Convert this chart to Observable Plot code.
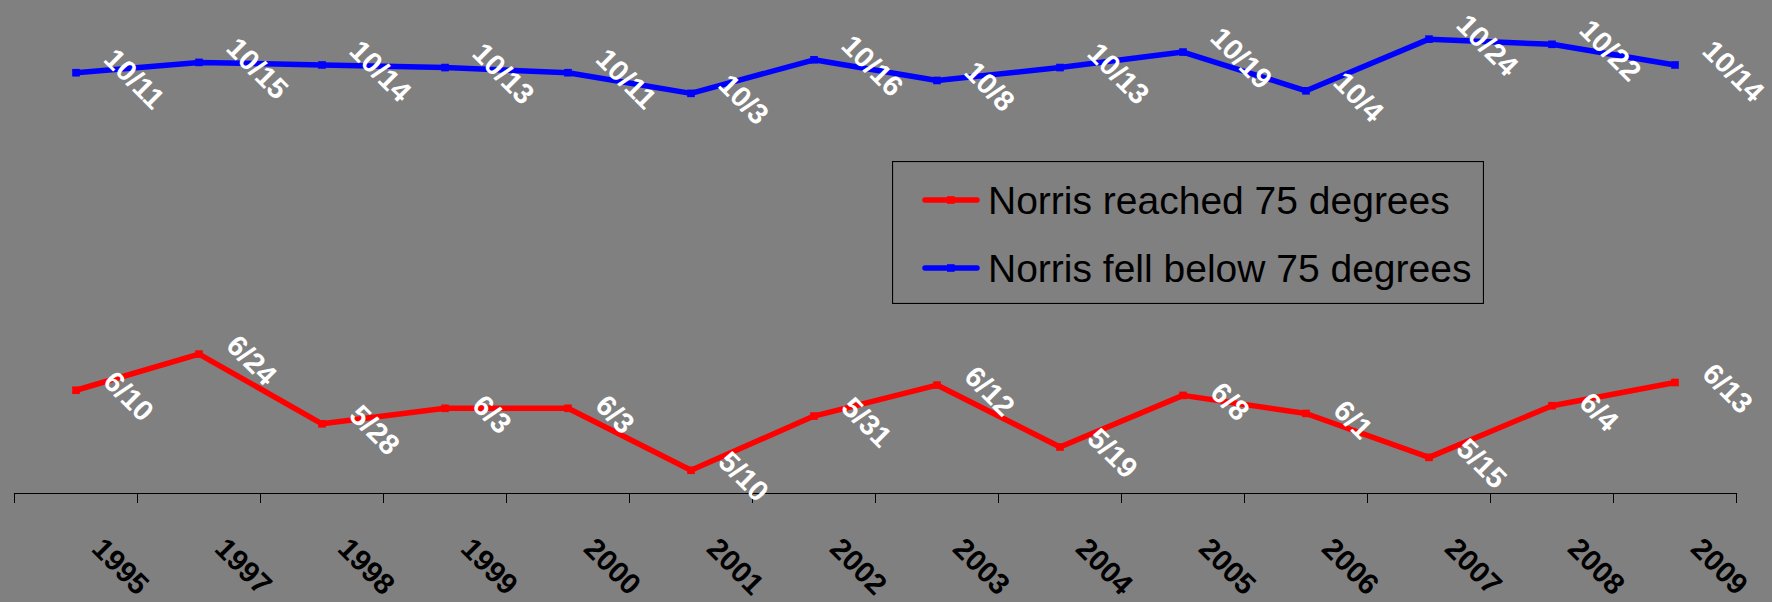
<!DOCTYPE html>
<html>
<head>
<meta charset="utf-8">
<script src="https://cdn.jsdelivr.net/npm/d3@7"></script>
<script src="https://cdn.jsdelivr.net/npm/@observablehq/plot@0.6"></script>
<style>
  html, body { margin: 0; padding: 0; background: #808080; }
  #chart { position: relative; width: 1772px; height: 602px; background: #808080; overflow: hidden;
           font-family: "Liberation Sans", Arial, sans-serif; }
  #chart > svg.mainplot { position: absolute; left: 0; top: 0; }
</style>
</head>
<body>
<div id="chart"></div>
<script>
// ---- data ----
const years = ["1995","1997","1998","1999","2000","2001","2002","2003","2004","2005","2006","2007","2008","2009"];
const reachedDates = ["6/10","6/24","5/28","6/3","6/3","5/10","5/31","6/12","5/19","6/8","6/1","5/15","6/4","6/13"];
const fellDates = ["10/11","10/15","10/14","10/13","10/11","10/3","10/16","10/8","10/13","10/19","10/4","10/24","10/22","10/14"];
const seriesNames = ["Norris reached 75 degrees", "Norris fell below 75 degrees"];
const seriesColors = ["#ff0000", "#0000ff"];
const yDomainDates = ["5/1", "11/1"];
const refYear = 2001;

const FONT = '"Liberation Sans", Arial, sans-serif';
const toDate = s => { const [m, d] = s.split("/").map(Number); return new Date(Date.UTC(refYear, m - 1, d)); };

const rows = [];
[reachedDates, fellDates].forEach((arr, s) => {
  arr.forEach((lab, i) => rows.push({ series: s, pos: i + 0.5, year: years[i], label: lab, date: toDate(lab) }));
});

// measure label widths for Excel-like "right" placement of rotated labels
const LABEL_SIZE = 29;
const ctx = document.createElement("canvas").getContext("2d");
ctx.font = `bold ${LABEL_SIZE}px "Liberation Sans", Arial, sans-serif`;
const capH = 0.716 * LABEL_SIZE;
const lengths = Array.from(new Set(rows.map(d => d.label.length)));

const labelMarks = lengths.map(n => {
  const sample = "0".repeat(n - 1) + "/";
  const w = ctx.measureText(sample).width;
  const half = (w + capH) * Math.SQRT1_2 / 2;
  return Plot.text(rows.filter(d => d.label.length === n), {
    x: "pos", y: "date", text: "label",
    rotate: 45, textAnchor: "middle", lineAnchor: "middle",
    dx: 25 + half, dy: 6.5,
    fill: "#ffffff", fontSize: LABEL_SIZE, fontWeight: "bold"
  });
});

const seriesMarks = [0, 1].flatMap(s => {
  const data = rows.filter(d => d.series === s);
  return [
    Plot.line(data, { x: "pos", y: "date", stroke: seriesColors[s], strokeWidth: 5.5, strokeLinejoin: "round" }),
    Plot.dot(data, { x: "pos", y: "date", symbol: "square", r: 4.3, fill: seriesColors[s], stroke: "none" })
  ];
});

const plot = Plot.plot({
  width: 1772,
  height: 602,
  marginLeft: 14,
  marginRight: 36,
  marginTop: 18,
  marginBottom: 109,
  style: { background: "transparent", fontFamily: FONT, overflow: "visible" },
  x: { type: "linear", domain: [0, years.length], label: null },
  y: { type: "utc", domain: yDomainDates.map(toDate), axis: null },
  marks: [
    Plot.frame({ anchor: "bottom", stroke: "#000000", strokeWidth: 1.2 }),
    Plot.axisX({ ticks: d3.range(years.length + 1), tickSize: 10, tickFormat: () => "", stroke: "#000000", label: null }),
    Plot.text(years, {
      x: (d, i) => i + 0.5, text: d => d, frameAnchor: "bottom",
      rotate: 45, textAnchor: "start", lineAnchor: "middle",
      dx: 21, dy: 50, fontSize: 29.5, fontWeight: "bold", fill: "#000000"
    }),
    ...seriesMarks,
    ...labelMarks
  ]
});
plot.classList.add("mainplot");

const chart = document.getElementById("chart");
chart.appendChild(plot);

// ---- legend (inside plot area, Excel style box) ----
const lw = 592, lh = 143;
const leg = d3.select(chart).append("svg").attr("id", "legend")
  .attr("width", lw).attr("height", lh)
  .style("position", "absolute").style("left", "892px").style("top", "161px");
leg.append("rect").attr("x", 0.5).attr("y", 0.5).attr("width", lw - 1).attr("height", lh - 1)
  .attr("fill", "none").attr("stroke", "#000000").attr("stroke-width", 1.2);
const rowY = [39, 107];
seriesNames.forEach((name, s) => {
  const g = leg.append("g").attr("transform", `translate(0,${rowY[s]})`);
  g.append("line").attr("x1", 33).attr("x2", 85).attr("y1", 0).attr("y2", 0)
    .attr("stroke", seriesColors[s]).attr("stroke-width", 5.5).attr("stroke-linecap", "round");
  g.append("rect").attr("x", 55).attr("y", -3.8).attr("width", 7.6).attr("height", 7.6).attr("fill", seriesColors[s]);
  g.append("text").attr("x", 96).attr("y", 13.5)
    .attr("font-family", FONT).attr("font-size", 39).attr("fill", "#000000")
    .text(name);
});
</script>
</body>
</html>
